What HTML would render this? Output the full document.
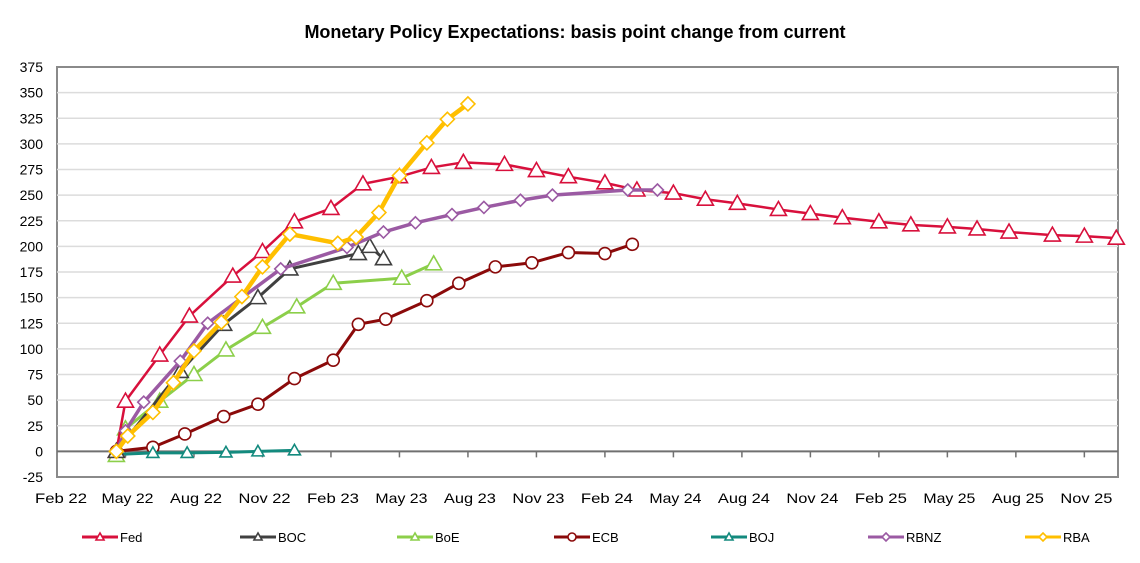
<!DOCTYPE html>
<html><head><meta charset="utf-8">
<style>
body{margin:0;background:#fff;font-family:"Liberation Sans",Arial,sans-serif;}
svg text{font-family:"Liberation Sans",Arial,sans-serif;}
</style></head>
<body>
<svg id="chart" width="1140" height="558" viewBox="0 0 1140 558" xmlns="http://www.w3.org/2000/svg">
<text x="575" y="38" text-anchor="middle" font-size="18" font-weight="bold" fill="#000">Monetary Policy Expectations: basis point change from current</text>
<g id="grid"></g>
<g id="axes"></g>
<g id="series"></g>
<g id="legend"></g>
</svg>
<script>
// x = months since Feb 2022, y = basis points
const yTicks = [-25,0,25,50,75,100,125,150,175,200,225,250,275,300,325,350,375];
const xTickLabels = ["Feb 22","May 22","Aug 22","Nov 22","Feb 23","May 23","Aug 23","Nov 23","Feb 24","May 24","Aug 24","Nov 24","Feb 25","May 25","Aug 25","Nov 25"];
const fedX = [2.6,3.0,4.5,5.8,7.7,9.0,10.4,12.0,13.4,15.0,16.4,17.8,19.6,21.0,22.4,24.0,25.4,27.0,28.4,29.8,31.6,33.0,34.4,36.0,37.4,39.0,40.3,41.7,43.6,45.0,46.4];
const fedY = [0,49,94,132,171,195,224,237,261,268,277,282,280,274,268,262,255,252,246,242,236,232,228,224,221,219,217,214,211,210,208];
const bocX = [2.6,5.4,7.3,8.8,10.2,13.2,13.7,14.3];
const bocY = [0,78,124,150,178,193,200,188];
const boeX = [2.6,3.0,4.5,6.0,7.4,9.0,10.5,12.1,15.1,16.5];
const boeY = [-4,22,49,75,99,121,141,164,169,183];
const ecbX = [2.6,4.2,5.6,7.3,8.8,10.4,12.1,13.2,14.4,16.2,17.6,19.2,20.8,22.4,24.0,25.2];
const ecbY = [0,4,17,34,46,71,89,124,129,147,164,180,184,194,193,202];
const bojX = [2.6,4.2,5.7,7.4,8.8,10.4];
const bojY = [-3,-1.5,-1.5,-1,0,1];
const rbnzX = [2.6,3.0,3.8,5.4,6.6,9.8,12.7,14.3,15.7,17.3,18.7,20.3,21.7,25.0,26.3];
const rbnzY = [0,20,48,88,125,178,199,214,223,231,238,245,250,255,255];
const rbaX = [2.6,3.1,4.2,5.1,6.0,7.2,8.1,9.0,10.2,12.3,13.1,14.1,15.0,16.2,17.1,18.0];
const rbaY = [0,15,38,67,98,126,151,180,212,203,209,233,269,301,324,339];

const NS="http://www.w3.org/2000/svg";
const L=57,R=1118,T=67,B=477;
const ymin=-25,ymax=375;
function yS(v){return B-(v-ymin)/(ymax-ymin)*(B-T);}
function xS(m){return L+m*22.83;}
function mk(tag,attrs,parent){const e=document.createElementNS(NS,tag);for(const k in attrs)e.setAttribute(k,attrs[k]);parent.appendChild(e);return e;}
const grid=document.getElementById('grid'),axes=document.getElementById('axes'),ser=document.getElementById('series'),leg=document.getElementById('legend');
// plot background/frame
const frame=mk('rect',{x:L,y:T,width:R-L,height:B-T,fill:'#fff',stroke:'#8a8a8a','stroke-width':2},grid);


yTicks.forEach(v=>{
  const y=yS(v);
  if(v!==ymin&&v!==ymax&&v!==0){const g=mk('line',{x1:L,x2:R,y1:y,y2:y,stroke:'#dcdcdc','stroke-width':1.5},grid);
  
  }
  const t=mk('text',{x:43,y:y+5,'text-anchor':'end','font-size':14,fill:'#000'},axes);t.textContent=v;
  
  
});
const zl=mk('line',{x1:L,x2:R,y1:yS(0),y2:yS(0),stroke:'#707070','stroke-width':2},axes);


xTickLabels.forEach((s,i)=>{
  const x=xS(i*3);
  if(i>0){const tk=mk('line',{x1:x,x2:x,y1:yS(0),y2:yS(0)+6,stroke:'#707070','stroke-width':1.5},axes);
  
  }
  const t=mk('text',{x:i===0?x+4:x+2,y:503,'text-anchor':'middle','font-size':14,fill:'#000',textLength:52,lengthAdjust:'spacingAndGlyphs'},axes);t.textContent=s;
  
  
});
function marker(type,x,y,color,g,sz){
  let e;
  if(type==='tri'){e=mk('polygon',{points:`${x},${y-sz} ${x-sz},${y+sz*0.75} ${x+sz},${y+sz*0.75}`,fill:'#fff',stroke:color,'stroke-width':1.6},g);}
  else if(type==='dia'){e=mk('polygon',{points:`${x},${y-sz} ${x+sz},${y} ${x},${y+sz} ${x-sz},${y}`,fill:'#fff',stroke:color,'stroke-width':1.6},g);}
  else {e=mk('circle',{cx:x,cy:y,r:sz,fill:'#fff',stroke:color,'stroke-width':1.6},g);}
  
  
}
const series=[
 {name:'Fed',xs:fedX,ys:fedY,color:'#d8103c',w:2.5,m:'tri',sz:8},
 {name:'BOC',xs:bocX,ys:bocY,color:'#404040',w:3,m:'tri',sz:8},
 {name:'BoE',xs:boeX,ys:boeY,color:'#8ccf4a',w:3,m:'tri',sz:8},
 {name:'ECB',xs:ecbX,ys:ecbY,color:'#8b0a0a',w:3,m:'circ',sz:6},
 {name:'BOJ',xs:bojX,ys:bojY,color:'#138a7e',w:3,m:'tri',sz:6},
 {name:'RBNZ',xs:rbnzX,ys:rbnzY,color:'#9b5aa3',w:3.5,m:'dia',sz:6},
 {name:'RBA',xs:rbaX,ys:rbaY,color:'#ffbf00',w:4.5,m:'dia',sz:7}
];
const drawOrder=[3,4,2,0,1,5,6];
drawOrder.forEach(i=>{
  const s=series[i];
  const g=mk('g',{},ser);
  
  
  const pts=s.xs.map((m,j)=>xS(m)+','+yS(s.ys[j])).join(' ');
  const pl=mk('polyline',{points:pts,fill:'none',stroke:s.color,'stroke-width':s.w,'stroke-linejoin':'round'},g);
  
  
  s.xs.forEach((m,j)=>marker(s.m,xS(m),yS(s.ys[j]),s.color,g,s.sz));
});
const legX=[82,240,397,554,711,868,1025];
series.forEach((s,i)=>{
  const g=mk('g',{},leg);
  
  
  const x=legX[i],y=537;
  mk('line',{x1:x,x2:x+36,y1:y,y2:y,stroke:s.color,'stroke-width':3},g);
  marker(s.m,x+18,y,s.color,g,4);
  const t=mk('text',{x:x+38,y:y+5,'font-size':13,fill:'#000'},g);t.textContent=s.name;
  
  
});
</script>
</body></html>
